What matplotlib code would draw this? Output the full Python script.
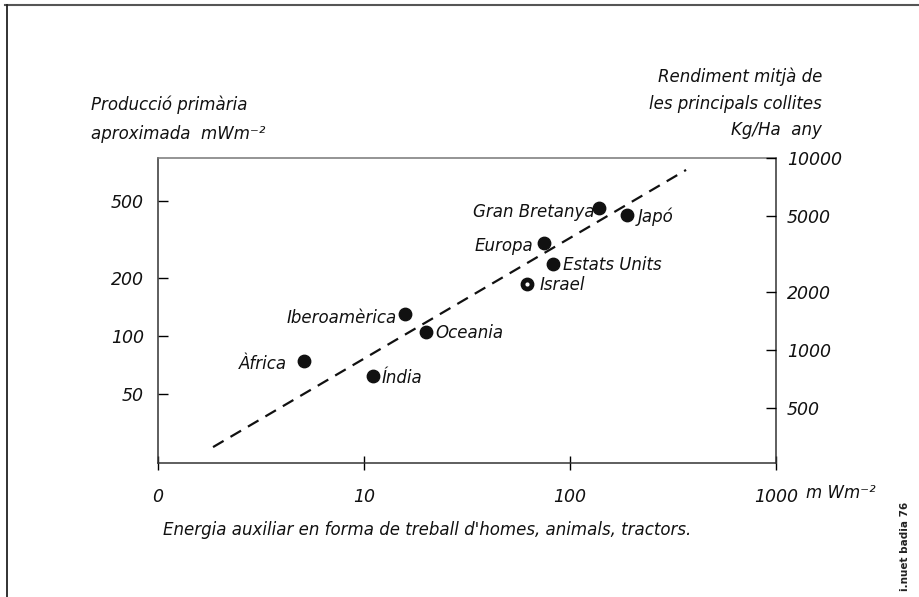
import numpy as np
import matplotlib
matplotlib.use("Agg")
import matplotlib.pyplot as plt
from matplotlib.lines import Line2D

# regions: (energia auxiliar mWm-2, produccio primaria mWm-2)
regions = ["Àfrica", "Índia", "Iberoamèrica", "Oceania", "Israel",
           "Europa", "Estats Units", "Gran Bretanya", "Japó"]
energia = [5.1, 11.1, 15.8, 20.0, 62.0, 75.0, 83.0, 138.0, 189.0]
produccio = [74, 62, 130, 105, 186, 303, 236, 460, 424]
# label offsets in points and alignment
label_dx = [-12, 6, -6, 7, 9, -8, 7, -3, 8]
label_dy = [-2, -1, -3, -1, -1, -2, -1, -3, -1]
label_ha = ["right", "left", "right", "left", "left", "right", "left", "right", "left"]

# trend line (dashed)
trend_x = [1.85, 366]
trend_y = [26.6, 725]

xticks = [1, 10, 100, 1000]
xtick_labels = ["0", "10", "100", "1000"]
yticks_left = [50, 100, 200, 500]
yticks_right = [500, 1000, 2000, 5000, 10000]

W, H = 920, 597
fig = plt.figure(figsize=(W / 100, H / 100), dpi=100)
plt.rcParams['font.family'] = ['DejaVu Sans']
FS = 12
font = dict(fontsize=FS, style='italic', color='#111111')
tfont = dict(fontsize=12.5, style='italic', color='#111111')

def fx(px):
    return px / W

def fy(py):
    return 1 - py / H

ax = fig.add_axes([fx(158), fy(463), fx(776) - fx(158), fy(158) - fy(463)])
ax.set_xscale('log')
ax.set_yscale('log')
ax.set_xlim(1, 1000)
ax.set_ylim(22, 836)

ax.plot(trend_x, trend_y, color='#111111', lw=1.6, dashes=(5.5, 3.6))
ax.scatter(energia, produccio, s=80, color='#111111', zorder=3)
# Israel has a small white dot in the middle
i_isr = regions.index("Israel")
ax.scatter([energia[i_isr]], [produccio[i_isr]], s=4, color='white', zorder=4)

for name, x, y, dx, dy, ha in zip(regions, energia, produccio, label_dx, label_dy, label_ha):
    ax.annotate(name, (x, y), xytext=(dx, dy), textcoords='offset points',
                ha=ha, va='center', **font)

ax.xaxis.set_major_locator(matplotlib.ticker.FixedLocator(xticks))
ax.set_xticklabels(xtick_labels, **tfont)
ax.xaxis.set_minor_locator(matplotlib.ticker.NullLocator())
ax.yaxis.set_major_locator(matplotlib.ticker.FixedLocator(yticks_left))
ax.set_yticklabels([str(v) for v in yticks_left], **tfont)
ax.yaxis.set_minor_locator(matplotlib.ticker.NullLocator())
ax.tick_params(axis='x', direction='inout', length=10, width=1, pad=13)
ax.tick_params(axis='y', direction='in', length=7, width=1, pad=10)

for side in ['left', 'right', 'bottom', 'top']:
    ax.spines[side].set_color('#333333')
    ax.spines[side].set_linewidth(1.1)
ax.spines['top'].set_color('#777777')

ax2 = ax.twinx()
ax2.set_yscale('log')
ax2.set_ylim(258, 10000)
ax2.yaxis.set_major_locator(matplotlib.ticker.FixedLocator(yticks_right))
ax2.set_yticklabels([str(v) for v in yticks_right], **tfont)
ax2.yaxis.set_minor_locator(matplotlib.ticker.NullLocator())
ax2.tick_params(axis='y', direction='in', length=7, width=1, pad=8)
for side in ['left', 'right', 'bottom', 'top']:
    ax2.spines[side].set_visible(False)

# axis titles
fig.text(fx(91), fy(105), "Producció primària", ha='left', va='center', **font)
fig.text(fx(91), fy(134), "aproximada  mWm⁻²", ha='left', va='center', **font)
fig.text(fx(822), fy(77), "Rendiment mitjà de", ha='right', va='center', **font)
fig.text(fx(822), fy(104), "les principals collites", ha='right', va='center', **font)
fig.text(fx(822), fy(130), "Kg/Ha  any", ha='right', va='center', **font)
fig.text(fx(806), fy(493), "m Wm⁻²", ha='left', va='center', **font)
fig.text(fx(163), fy(530), "Energia auxiliar en forma de treball d'homes, animals, tractors.",
         ha='left', va='center', fontsize=12, style='italic', color='#111111')
fig.text(fx(905), fy(546), "i.nuet badia 76", ha='center', va='center', rotation=90,
         fontsize=7.5, fontweight='bold', color='#222222')

# page border
fig.add_artist(Line2D([fx(5), 1], [fy(5), fy(5)], color='#555555', lw=1.5))
fig.add_artist(Line2D([fx(7), fx(7)], [fy(5), 0], color='#222222', lw=1.3))

fig.savefig("out.png", dpi=100)
